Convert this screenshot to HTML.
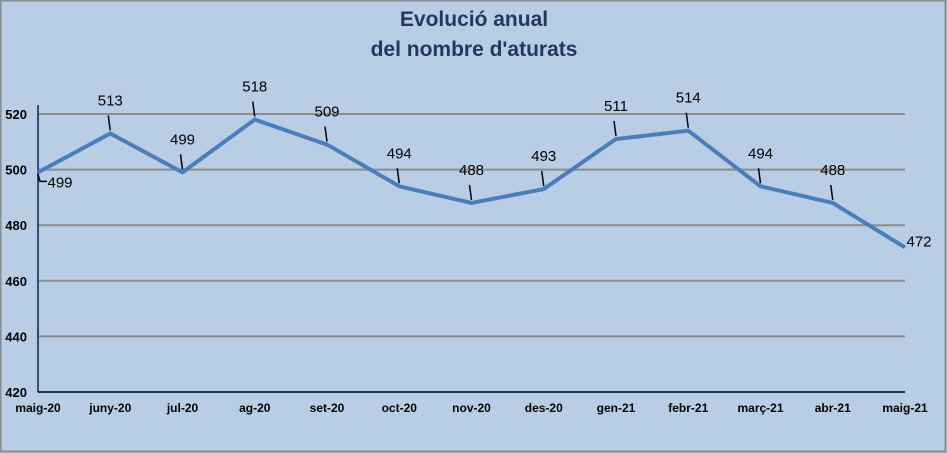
<!DOCTYPE html>
<html><head><meta charset="utf-8"><style>
html,body{margin:0;padding:0;background:#b9cde5;}
svg{display:block;font-family:"Liberation Sans",sans-serif;}
</style></head><body>
<svg width="947" height="453">
<rect x="0.5" y="0.5" width="945" height="451" fill="#b9cde5" stroke="#8c8c8c" stroke-width="2"/>
<text x="474" y="26" text-anchor="middle" font-size="21" font-weight="bold" fill="#1f3a60">Evolució anual</text>
<text x="474" y="56" text-anchor="middle" font-size="21" font-weight="bold" fill="#1f3a60">del nombre d'aturats</text>
<g id="grid"></g><g id="yt"></g><g id="xt"></g><g id="ln"></g><g id="lb"></g>
</svg>
<script>
const categories=["maig-20","juny-20","jul-20","ag-20","set-20","oct-20","nov-20","des-20","gen-21","febr-21","març-21","abr-21","maig-21"];
const values=[499,513,499,518,509,494,488,493,511,514,494,488,472];
const yTicks=[420,440,460,480,500,520];
const NS="http://www.w3.org/2000/svg";
const x0=38,x1=905,yB=392,yT=114;
const X=i=>x0+i*(x1-x0)/(categories.length-1);
const Y=v=>yB-(v-420)*(yB-yT)/100;
function mk(t,a,p){const e=document.createElementNS(NS,t);for(const k in a)e.setAttribute(k,a[k]);p.appendChild(e);return e;}
const g=document.getElementById('grid'),yt=document.getElementById('yt'),xt=document.getElementById('xt'),ln=document.getElementById('ln'),lb=document.getElementById('lb');
yTicks.forEach(v=>{
 if(v>420){const l=mk('line',{x1:x0,x2:x1,y1:Y(v),y2:Y(v),stroke:'#8c8c8c','stroke-width':2},g);
 
 }
 const t=mk('text',{x:27,y:Y(v)+5,'text-anchor':'end','font-size':13,'font-weight':'bold',fill:'#000'},yt);t.textContent=v;
 
 
});
const ax=mk('line',{x1:x0,x2:x0,y1:105,y2:yB,stroke:'#2f4f7a','stroke-width':2},g);


const bx=mk('line',{x1:x0,x2:x1,y1:yB,y2:yB,stroke:'#1f2f4f','stroke-width':2},g);


categories.forEach((c,i)=>{const t=mk('text',{x:X(i),y:412,'text-anchor':'middle','font-size':12,'font-weight':'bold',fill:'#000'},xt);t.textContent=c;
 
 });
const line=mk('polyline',{points:values.map((v,i)=>X(i)+','+Y(v)).join(' '),fill:'none',stroke:'#4a7ebb','stroke-width':4,'stroke-linejoin':'round'},ln);


values.forEach((v,i)=>{
 const px=X(i),py=Y(v);let tx,ty,anchor='middle';
 if(i===0){tx=px+22;ty=py+15;const l=mk('polyline',{points:`${px},${py+2} ${px+2},${py+9} ${px+9},${py+9}`,fill:'none',stroke:'#000','stroke-width':1.5},lb);}
 else if(i===values.length-1){tx=px+14;ty=py-1;}
 else{tx=px;ty=py-28;const l=mk('line',{x1:px,y1:py-3,x2:px-2,y2:py-18,stroke:'#000','stroke-width':1.5},lb);}
 const t=mk('text',{x:tx,y:ty,'text-anchor':anchor,'font-size':15,fill:'#000'},lb);t.textContent=v;
 
 
});
</script>
</body></html>
